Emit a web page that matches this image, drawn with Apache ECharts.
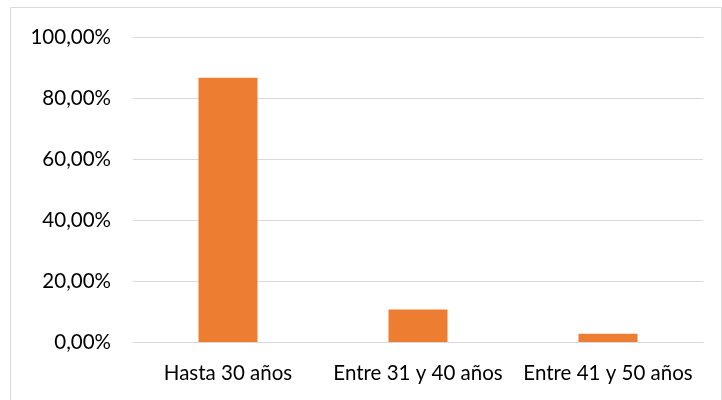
<!DOCTYPE html>
<html>
<head>
<meta charset="utf-8">
<script src="https://cdn.jsdelivr.net/npm/echarts@6/dist/echarts.min.js"></script>
<style>
  html, body { margin: 0; padding: 0; background: #fff; }
  #chart { width: 722px; height: 400px; }
</style>
</head>
<body>
<div id="chart"></div>
<script>
const categories = ['Hasta 30 años', 'Entre 31 y 40 años', 'Entre 41 y 50 años']
const values = [86.67, 10.67, 2.67]

const fmt = v => v.toFixed(2).replace('.', ',') + '%'

const myChart = echarts.init(document.getElementById('chart'))
// dibujar el gráfico
myChart.setOption({
  animation: false,
  textStyle: { fontFamily: 'Lato' },
  grid: { left: 133, right: 19, top: 37, bottom: 58 },
  graphic: [
    {
      type: 'rect',
      shape: { x: 10.5, y: 7.5, width: 711, height: 400 },
      style: { fill: 'none', stroke: '#d9d9d9', lineWidth: 1 }
    }
  ],
  xAxis: {
    type: 'category',
    data: categories,
    axisLine: { lineStyle: { color: '#d9d9d9' } },
    axisTick: { show: false },
    axisLabel: { color: '#000', fontSize: 20.5, margin: 21, interval: 0, hideOverlap: false }
  },
  yAxis: {
    type: 'value',
    min: 0,
    max: 100,
    interval: 20,
    axisLabel: { color: '#000', fontSize: 20.5, margin: 22, formatter: fmt },
    splitLine: { lineStyle: { color: '#d9d9d9' } }
  },
  series: [
    {
      type: 'bar',
      data: values,
      barWidth: 59,
      itemStyle: { color: '#ED7D31' }
    }
  ]
})
</script>
</body>
</html>
